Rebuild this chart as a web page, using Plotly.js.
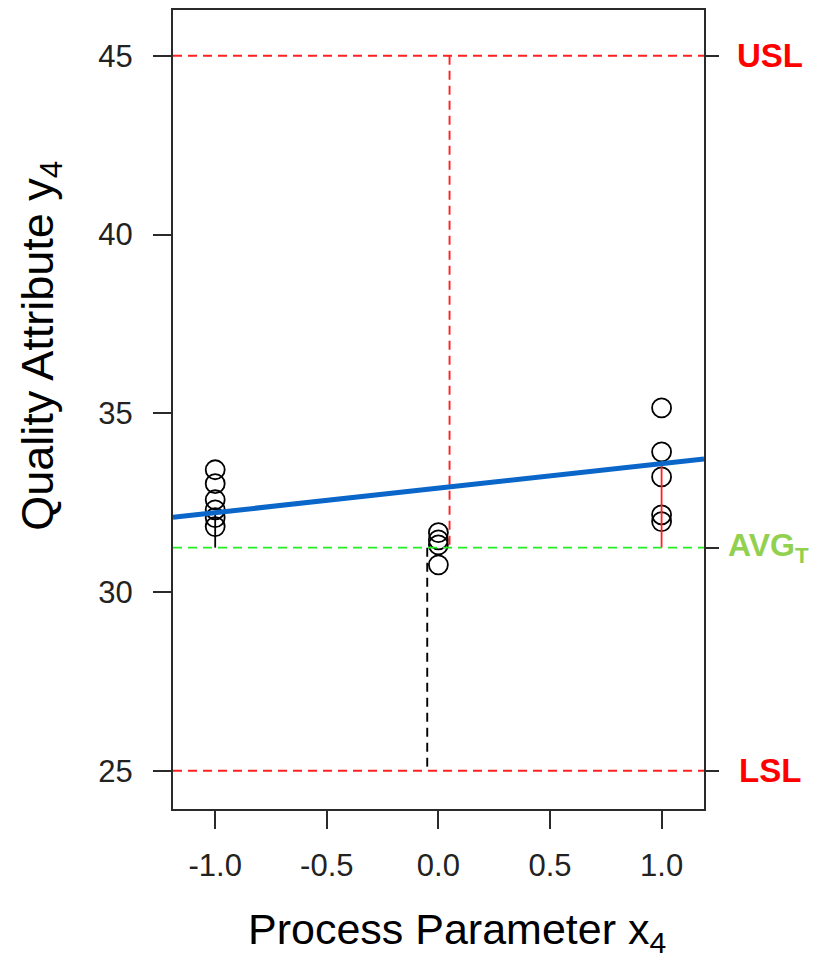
<!DOCTYPE html>
<html>
<head>
<meta charset="utf-8">
<script src="https://cdn.plot.ly/plotly-3.0.1.min.js"></script>
<style>html,body{margin:0;padding:0;background:#fff;}#chart{width:820px;height:960px;}</style>
</head>
<body>
<div id="chart"></div>
<script>
// ---- data ----
var groupX = [-1, 0, 1];
var pointsLow = [33.42, 33.03, 32.58, 32.30, 32.08, 31.83];   // x = -1
var pointsMid = [31.66, 31.46, 31.32, 30.76];                 // x = 0
var pointsHigh = [35.15, 33.92, 33.22, 32.16, 31.97];          // x = 1
var USL = 45;
var LSL = 25;
var AVG = 31.24;
var fitCoef = [32.905, 0.685];       // intercept, slope
var xRange = [-1.189, 1.19];
var yRange = [23.93, 46.28];
var xTicks = [-1.0, -0.5, 0.0, 0.5, 1.0];
var xTickText = ['-1.0', '-0.5', '0.0', '0.5', '1.0'];
var yTicks = [25, 30, 35, 40, 45];
var uslMarkX = 0.05;   // dashed distance marker AVG -> USL
var lslMarkX = -0.05;  // dashed distance marker AVG -> LSL

function fit(x) { return fitCoef[0] + fitCoef[1] * x; }

var px = [], py = [];
pointsLow.forEach(function (v) { px.push(groupX[0]); py.push(v); });
pointsMid.forEach(function (v) { px.push(groupX[1]); py.push(v); });
pointsHigh.forEach(function (v) { px.push(groupX[2]); py.push(v); });

var traces = [
  { x: px, y: py, mode: 'markers', type: 'scatter',
    marker: { symbol: 'circle-open', size: 19, color: '#000', line: { width: 1.8, color: '#000' } },
    hoverinfo: 'skip', showlegend: false },
  { x: [uslMarkX, uslMarkX], y: [USL, AVG], mode: 'lines', type: 'scatter',
    line: { color: '#ff2020', width: 1.9, dash: '9px,6px' }, hoverinfo: 'skip', showlegend: false },
  { x: [lslMarkX, lslMarkX], y: [AVG, LSL], mode: 'lines', type: 'scatter',
    line: { color: '#000', width: 1.9, dash: '9px,6px' }, hoverinfo: 'skip', showlegend: false },
  { x: [groupX[0], groupX[0]], y: [fit(groupX[0]), AVG], mode: 'lines', type: 'scatter',
    line: { color: '#000', width: 1.8 }, hoverinfo: 'skip', showlegend: false },
  { x: [groupX[2], groupX[2]], y: [fit(groupX[2]), AVG], mode: 'lines', type: 'scatter',
    line: { color: '#ff2020', width: 1.8 }, hoverinfo: 'skip', showlegend: false },
  { x: xRange, y: xRange.map(fit), mode: 'lines', type: 'scatter',
    line: { color: '#0a66c8', width: 5 }, hoverinfo: 'skip', showlegend: false },
  { x: [groupX[1]], y: [AVG], yaxis: 'y2', mode: 'markers', type: 'scatter',
    marker: { opacity: 0 }, hoverinfo: 'skip', showlegend: false }
];

var hline = function (v, color) {
  return { type: 'line', xref: 'paper', x0: 0, x1: 1, yref: 'y', y0: v, y1: v,
    line: { color: color, width: 1.9, dash: '9px,6px' }, layer: 'above' };
};

var tickFont = { family: 'Liberation Sans, Arial, sans-serif', size: 31, color: '#222' };
var labFont = { family: 'Liberation Sans, Arial, sans-serif', size: 33, weight: 'bold' };

var layout = {
  width: 820, height: 960,
  margin: { l: 173, r: 116, t: 10, b: 151 },
  paper_bgcolor: '#fff', plot_bgcolor: '#fff',
  showlegend: false,
  xaxis: {
    range: xRange, tickvals: xTicks, ticktext: xTickText,
    ticks: 'outside', ticklen: 18, tickwidth: 2, tickcolor: '#2a2a2a',
    showline: true, linecolor: '#2a2a2a', linewidth: 2, mirror: true,
    showgrid: false, zeroline: false, tickfont: tickFont, ticklabelstandoff: 10
  },
  yaxis: {
    range: yRange, tickvals: yTicks,
    ticks: 'outside', ticklen: 18, tickwidth: 2, tickcolor: '#2a2a2a',
    showline: true, linecolor: '#2a2a2a', linewidth: 2, mirror: true,
    showgrid: false, zeroline: false, tickfont: tickFont, ticklabelstandoff: 14
  },
  yaxis2: {
    range: yRange, overlaying: 'y', side: 'right', tickvals: [USL, AVG, LSL],
    ticks: 'outside', ticklen: 14, tickwidth: 2, tickcolor: '#2a2a2a',
    showticklabels: false, showline: false, showgrid: false, zeroline: false
  },
  shapes: [hline(USL, '#ff2020'), hline(LSL, '#ff2020'), hline(AVG, '#22ee22')],
  annotations: [
    { text: 'USL', xref: 'paper', yref: 'y', x: 1.125, y: USL, showarrow: false,
      xanchor: 'center', yanchor: 'middle', font: Object.assign({}, labFont, { color: '#ff0000' }) },
    { text: 'LSL', xref: 'paper', yref: 'y', x: 1.125, y: LSL, showarrow: false,
      xanchor: 'center', yanchor: 'middle', font: Object.assign({}, labFont, { color: '#ff0000' }) },
    { text: 'AVG<sub>T</sub>', xref: 'paper', yref: 'y', x: 1.042, y: AVG, showarrow: false,
      xanchor: 'left', yanchor: 'middle', font: Object.assign({}, labFont, { size: 32, color: '#92d050' }) },
    { text: 'Process Parameter x<sub>4</sub>', xref: 'paper', yref: 'paper', x: 0.535, y: -0.1545,
      showarrow: false, xanchor: 'center', yanchor: 'middle',
      font: { family: 'Liberation Sans, Arial, sans-serif', size: 43, color: '#000' } },
    { text: 'Quality Attribute y<sub>4</sub>', xref: 'paper', yref: 'paper', x: -0.25, y: 0.58,
      showarrow: false, xanchor: 'center', yanchor: 'middle', textangle: -90,
      font: { family: 'Liberation Sans, Arial, sans-serif', size: 45, color: '#000' } }
  ]
};

Plotly.newPlot('chart', traces, layout, { displayModeBar: false, staticPlot: true });
</script>
</body>
</html>
